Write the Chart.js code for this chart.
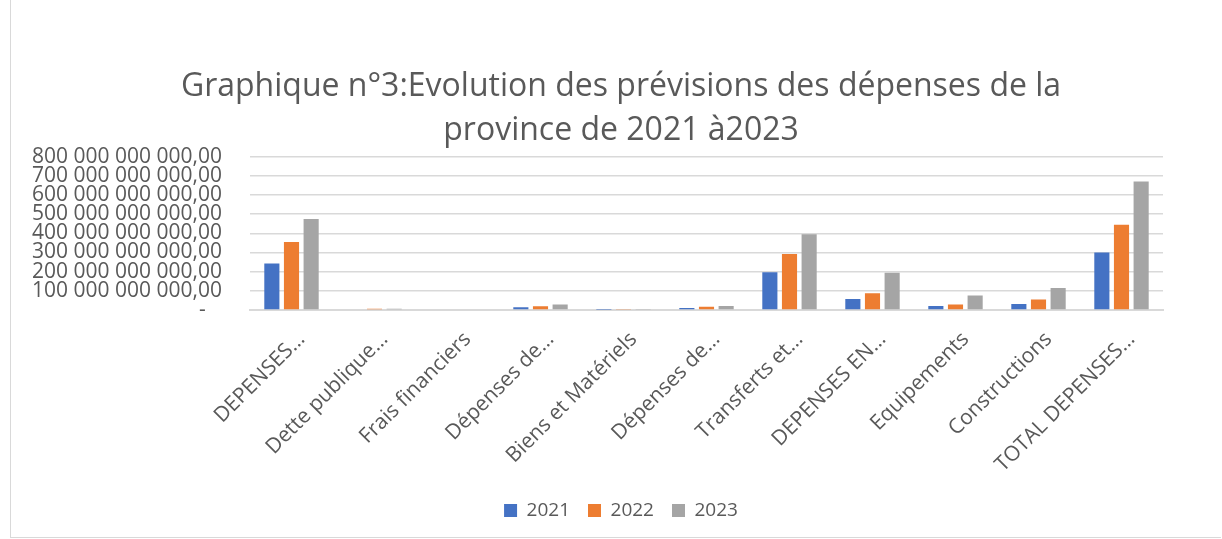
<!DOCTYPE html>
<html lang="fr">
<head>
<meta charset="UTF-8">
<script src="https://cdn.jsdelivr.net/npm/chart.js"></script>
<title>Graphique n°3</title>
<style>
    html, body { margin: 0; padding: 0; background: #fff; }
    .frame {
        position: absolute; left: 10px; top: 0; width: 1211px; height: 538px;
        border-left: 1px solid #d9d9d9; border-bottom: 1px solid #d9d9d9;
        box-sizing: border-box;
    }
    canvas { display: block; }
</style>
</head>
<body>
<div class="frame"><canvas id="chart"></canvas></div>
<script>
// données (en FC)
const categories = ['DEPENSES…', 'Dette publique…', 'Frais financiers', 'Dépenses de…', 'Biens et Matériels',
    'Dépenses de…', 'Transferts et…', 'DEPENSES EN…', 'Equipements', 'Constructions', 'TOTAL DEPENSES…'];
const years = ['2021', '2022', '2023'];
const val2021 = [242e9, 4e9, 0, 14e9, 1.5e9, 10e9, 197e9, 57e9, 21e9, 31e9, 300e9];
const val2022 = [354e9, 6e9, 0, 19e9, 3e9, 17e9, 292e9, 88e9, 29e9, 55e9, 445e9];
const val2023 = [475e9, 6e9, 0, 29e9, 5e9, 21e9, 395e9, 194e9, 76e9, 115e9, 670e9];
const colors = ['#4472C4', '#ED7D31', '#A5A5A5'];
const yMax = 800e9;
const yStep = 100e9;

const font = "'Open Sans', sans-serif";
const grey = '#595959';

const canvas = document.getElementById('chart');
canvas.width = 1210;
canvas.height = 537;

function fmt(v) {
    if (v === 0) return '-   ';
    return v.toLocaleString('fr-FR', { minimumFractionDigits: 2 }).replace(/[\s\u202f]/g, ' ');
}

// titre et légende centrés sur tout le cadre, pas seulement sur la zone utile
const centreBlocks = {
    id: 'centreBlocks',
    afterLayout(chart) {
        [chart.titleBlock, chart.legend].forEach(b => {
            b.left = 10;
            b.right = 1210;
            b.width = 1200;
        });
    }
};

new Chart(canvas.getContext('2d'), {
    type: 'bar',
    data: {
        labels: categories,
        datasets: [val2021, val2022, val2023].map((d, i) => ({
            label: years[i],
            data: d,
            backgroundColor: colors[i],
            categoryPercentage: 0.71,
            barPercentage: 0.77
        }))
    },
    options: {
        responsive: false,
        animation: false,
        layout: { padding: { left: 21, right: 58, top: 0, bottom: 7 } },
        plugins: {
            title: {
                display: true,
                text: ['Graphique n°3:Evolution des prévisions des dépenses de la', 'province de 2021 à2023'],
                color: grey,
                font: { family: font, size: 32, weight: 'normal', lineHeight: 1.4 },
                padding: { top: 64, bottom: 3 }
            },
            legend: {
                position: 'bottom',
                labels: {
                    color: grey,
                    font: { family: font, size: 19 },
                    boxWidth: 13, boxHeight: 13, padding: 18
                }
            },
            tooltip: { enabled: false }
        },
        scales: {
            x: {
                grid: { display: false },
                border: { color: '#d9d9d9', width: 2 },
                ticks: {
                    color: grey, font: { family: font, size: 21 },
                    minRotation: 45, maxRotation: 45, autoSkip: false,
                    labelOffset: 10, padding: 9
                },
                afterFit: s => { s.height = 173; }
            },
            y: {
                min: 0, max: yMax,
                grid: { color: '#d9d9d9', lineWidth: 1.5, drawTicks: false },
                border: { display: false },
                ticks: {
                    stepSize: yStep, padding: 28, autoSkip: false,
                    color: grey, font: { family: font, size: 21, lineHeight: 1 },
                    callback: v => fmt(v)
                },
                afterFit: s => { s.width = 218; }
            }
        }
    },
    plugins: [centreBlocks]
});
</script>
</body>
</html>
